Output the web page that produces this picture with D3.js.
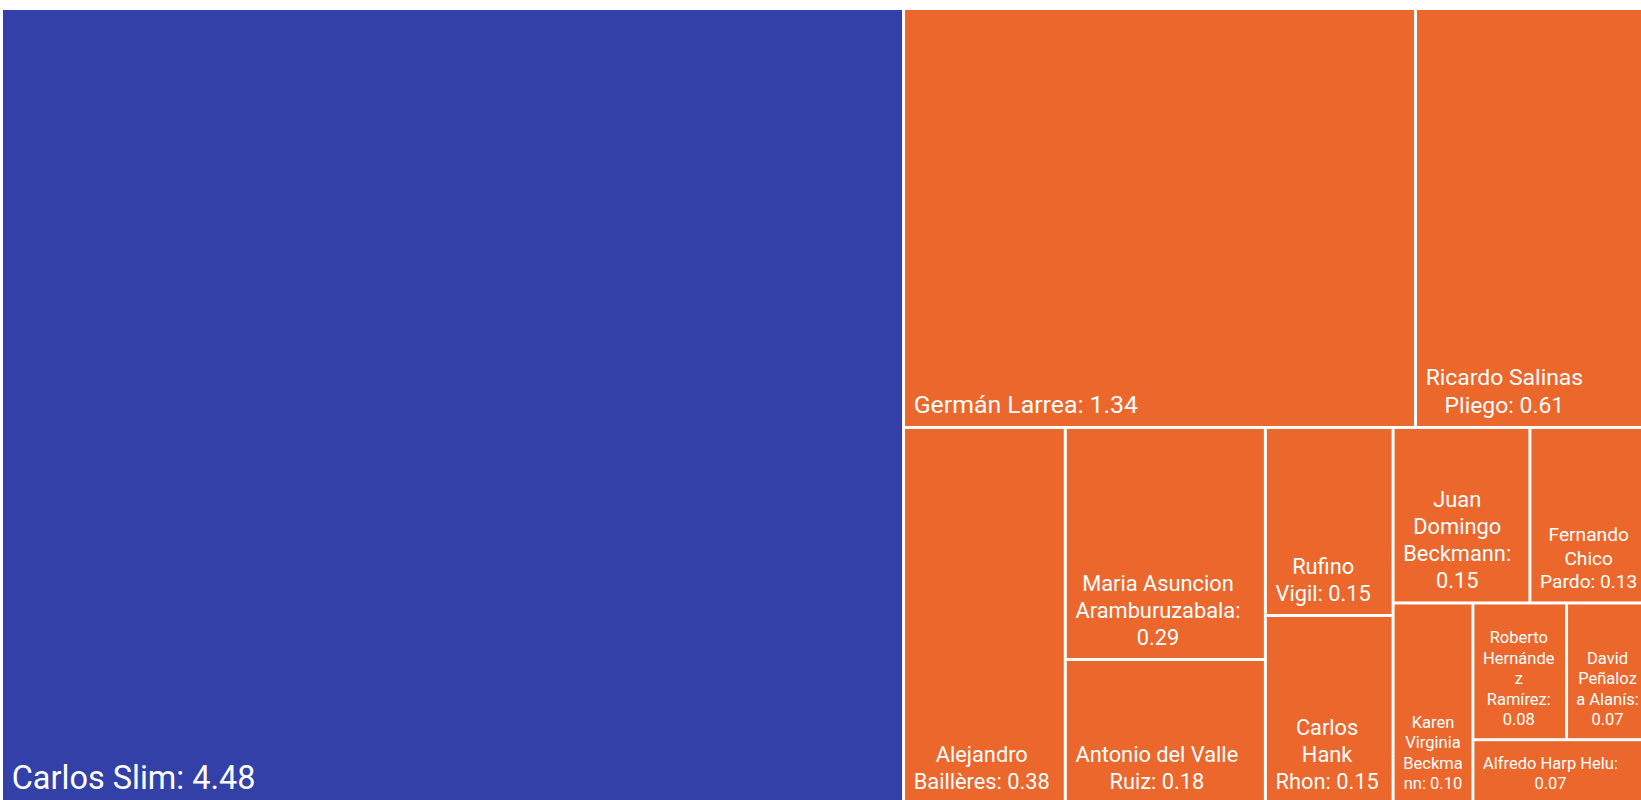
<!DOCTYPE html>
<html>
<head>
<meta charset="utf-8">
<script src="https://cdn.jsdelivr.net/npm/d3@7"></script>
<style>
  body { margin: 0; background: #fff; overflow: hidden; }
  svg { display: block; }
  .label { font-family: Roboto, "Noto Sans", sans-serif; fill: #fff; }
</style>
</head>
<body>
<svg id="chart" width="1641" height="800"></svg>
<script>
// Wealth of Mexico's richest people (share shown as label value)
var names = [
  "Carlos Slim", "Germán Larrea", "Ricardo Salinas Pliego", "Alejandro Baillères",
  "Maria Asuncion Aramburuzabala", "Antonio del Valle Ruiz", "Rufino Vigil",
  "Carlos Hank Rhon", "Juan Domingo Beckmann", "Fernando Chico Pardo",
  "Karen Virginia Beckmann", "Roberto Hernández Ramírez", "David Peñaloza Alanís",
  "Alfredo Harp Helu"
];
var values = [4.48, 1.34, 0.61, 0.38, 0.29, 0.18, 0.15, 0.15, 0.15, 0.13, 0.10, 0.08, 0.07, 0.07];

// grouping of the tiles (nesting path of each person)
var groupPath = [
  "", "rest/top", "rest/top", "rest/bottom",
  "rest/bottom/c2", "rest/bottom/c2", "rest/bottom/c3",
  "rest/bottom/c3", "rest/bottom/c4/a", "rest/bottom/c4/a",
  "rest/bottom/c4/b", "rest/bottom/c4/b/s/r", "rest/bottom/c4/b/s/r",
  "rest/bottom/c4/b/s"
];
var highlighted = ["Carlos Slim"];

var blue = "#3340a8";
var orange = "#ec672c";

// build nested data from the arrays
var rootData = { name: "root", children: [] };
names.forEach(function (n, i) {
  var node = rootData;
  groupPath[i].split("/").filter(Boolean).forEach(function (key) {
    var next = node.children.find(function (c) { return c.name === key && c.children; });
    if (!next) {
      next = { name: key, children: [] };
      node.children.push(next);
    }
    node = next;
  });
  node.children.push({ name: n, value: values[i] });
});

var width = 1644, height = 792;
var offX = 3, offY = 10;

var root = d3.hierarchy(rootData).sum(function (d) { return d.value || 0; });

d3.treemap()
  .tile(d3.treemapSliceDice)
  .size([width, height])
  .paddingInner(3)(root);

var svg = d3.select("#chart");
var g = svg.append("g").attr("transform", "translate(" + offX + "," + offY + ")");

var leaves = root.leaves();

g.selectAll("rect")
  .data(leaves)
  .enter().append("rect")
  .attr("x", function (d) { return d.x0; })
  .attr("y", function (d) { return d.y0; })
  .attr("width", function (d) { return d.x1 - d.x0; })
  .attr("height", function (d) { return d.y1 - d.y0; })
  .attr("fill", function (d) { return highlighted.indexOf(d.data.name) >= 0 ? blue : orange; });

// font size grows with the tile area
var fontScale = d3.scaleLog()
  .domain([10000, 15500, 20000, 23000, 60000, 211000, 713000])
  .range([16.5, 16.5, 19.2, 21.8, 21.8, 24.8, 32.5])
  .clamp(true);

var measurer = svg.append("text").attr("class", "label").attr("x", -1000).attr("y", -1000);
function measure(str, size) {
  measurer.attr("font-size", size).text(str);
  return measurer.node().getComputedTextLength();
}

// word wrap, breaking inside a word when it does not fit on its own
function wrap(text, maxW, size) {
  var words = text.split(" ");
  var lines = [];
  var cur = "";
  words.forEach(function (w) {
    var tryLine = cur ? cur + " " + w : w;
    if (measure(tryLine, size) <= maxW) { cur = tryLine; return; }
    if (cur) { lines.push(cur); cur = ""; }
    while (w.length > 1 && measure(w, size) > maxW) {
      var k = w.length - 1;
      while (k > 1 && measure(w.slice(0, k), size) > maxW) k--;
      lines.push(w.slice(0, k));
      w = w.slice(k);
    }
    cur = w;
  });
  if (cur) lines.push(cur);
  return lines;
}

var pad = 8.7;

leaves.forEach(function (d) {
  var w = d.x1 - d.x0, h = d.y1 - d.y0;
  var size = fontScale(w * h);
  var label = d.data.name + ": " + d.data.value.toFixed(2);
  var lines = wrap(label, w - 15.4, size);
  var blockW = d3.max(lines, function (l) { return measure(l, size); });
  var lineH = size * 1.24;
  var left = Math.max(7, Math.min(pad, (w - blockW) / 2));
  var cx = d.x0 + left + blockW / 2;
  var bottom = d.y1 - 13;

  var t = g.append("text")
    .attr("class", "label")
    .attr("font-size", size)
    .attr("text-anchor", "middle");

  t.selectAll("tspan")
    .data(lines)
    .enter().append("tspan")
    .attr("x", cx)
    .attr("y", function (l, i) { return bottom - (lines.length - 1 - i) * lineH; })
    .text(function (l) { return l; });
});

measurer.remove();
</script>
</body>
</html>
